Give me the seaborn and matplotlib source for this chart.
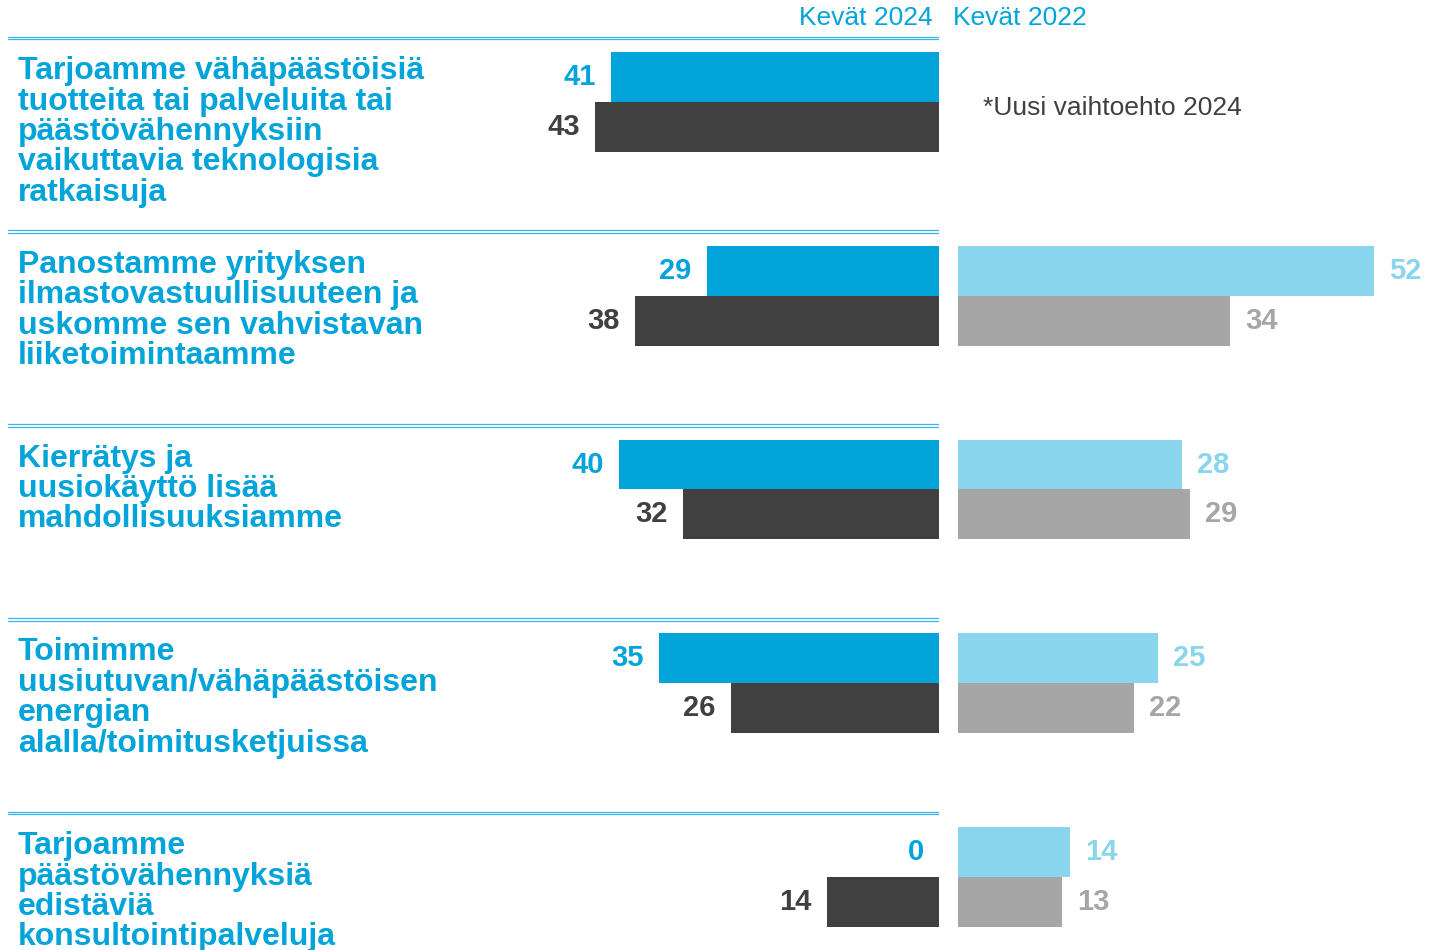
import numpy as np
import pandas as pd
import seaborn as sns
import matplotlib.pyplot as plt

sns.set_theme(style="white")
plt.rcParams['font.family'] = ['Liberation Sans', 'DejaVu Sans']

kysymykset = [
    "Tarjoamme vähäpäästöisiä\ntuotteita tai palveluita tai\npäästövähennyksiin\nvaikuttavia teknologisia\nratkaisuja",
    "Panostamme yrityksen\nilmastovastuullisuuteen ja\nuskomme sen vahvistavan\nliiketoimintaamme",
    "Kierrätys ja\nuusiokäyttö lisää\nmahdollisuuksiamme",
    "Toimimme\nuusiutuvan/vähäpäästöisen\nenergian\nalalla/toimitusketjuissa",
    "Tarjoamme\npäästövähennyksiä\nedistäviä\nkonsultointipalveluja",
]
sarjat = ["Sarja 1", "Sarja 2"]
kevat_2024_s1 = [41, 29, 40, 35, 0]
kevat_2024_s2 = [43, 38, 32, 26, 14]
kevat_2022_s1 = [np.nan, 52, 28, 25, 14]
kevat_2022_s2 = [np.nan, 34, 29, 22, 13]

SININEN = "#03a4da"
TUMMA = "#404040"
VAALEANSININEN = "#89d5ee"
HARMAA = "#a6a6a6"
VIIVA = "#3db4e5"


def taulukko(s1, s2):
    df = pd.DataFrame({
        "kysymys": kysymykset * 2,
        "sarja": [sarjat[0]] * len(s1) + [sarjat[1]] * len(s2),
        "arvo": list(s1) + list(s2),
    })
    return df.dropna()


def main():
    fig = plt.figure(figsize=(14.56, 9.5), dpi=100)
    axL = fig.add_axes([8 / 1456, 0, 931 / 1456, 1])
    axR = fig.add_axes([958 / 1456, 0, 498 / 1456, 1])

    sns.barplot(data=taulukko(kevat_2024_s1, kevat_2024_s2), x="arvo", y="kysymys",
                hue="sarja", order=kysymykset, hue_order=sarjat, orient="h",
                palette=[SININEN, TUMMA], saturation=1, width=0.515, linewidth=0,
                legend=False, ax=axL)
    sns.barplot(data=taulukko(kevat_2022_s1, kevat_2022_s2), x="arvo", y="kysymys",
                hue="sarja", order=kysymykset, hue_order=sarjat, orient="h",
                palette=[VAALEANSININEN, HARMAA], saturation=1, width=0.515, linewidth=0,
                legend=False, ax=axR)

    ylim = (4.377, -0.5265)
    axL.set_xlim(931 / 8, 0)
    axR.set_xlim(0, 498 / 8)
    for ax in (axL, axR):
        ax.set_ylim(*ylim)
        ax.set_axis_off()

    # arvojen tekstit
    for ax, varit, suunta in ((axL, [SININEN, TUMMA], -1), (axR, [VAALEANSININEN, HARMAA], 1)):
        for cont, vari in zip(ax.containers, varit):
            for bar in cont:
                w = bar.get_width()
                if np.isnan(w):
                    continue
                ax.annotate(f"{w:.0f}", xy=(w, bar.get_y() + bar.get_height() / 2),
                            xytext=(suunta * 11, 0), textcoords="offset points",
                            ha="right" if suunta < 0 else "left", va="center",
                            fontsize=21, fontweight="bold", color=vari)

    # erotinviivat ja kysymysten tekstit
    for i, k in enumerate(kysymykset):
        y = i - 0.330
        axL.axhline(y - 0.007, xmin=0, xmax=1, color=VIIVA, lw=0.9)
        axL.axhline(y + 0.007, xmin=0, xmax=1, color=VIIVA, lw=0.9)
        axL.text(10 / 931, y + 0.093, k, transform=axL.get_yaxis_transform(),
                 ha="left", va="top", fontsize=23, fontweight="bold",
                 color=SININEN, linespacing=1.02)

    axR.text(3.1, 0.03, "*Uusi vaihtoehto 2024", ha="left", va="center",
             fontsize=19, color=TUMMA)

    fig.text(933 / 1456, 1 - 18 / 950, "Kevät 2024", ha="right", va="center",
             fontsize=19, color=SININEN)
    fig.text(953 / 1456, 1 - 18 / 950, "Kevät 2022", ha="left", va="center",
             fontsize=19, color=SININEN)

    fig.savefig("out.png", dpi=100)


if __name__ == "__main__":
    main()
